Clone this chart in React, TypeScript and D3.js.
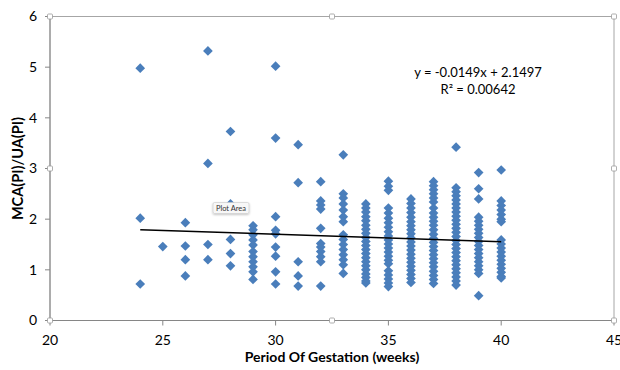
import React from 'react';
import * as d3 from 'd3';

// gestation week for each column of points
const weeks = [24, 25, 26, 27, 28, 29, 30, 31, 32, 33, 34, 35, 36, 37, 38, 39, 40];

// MCA(PI)/UA(PI) readings, one list per week
const ratios = [
  [4.98, 2.02, 0.72],
  [1.46],
  [1.93, 1.47, 1.2, 0.88],
  [5.32, 3.1, 1.5, 1.2],
  [3.73, 2.3, 1.6, 1.32, 1.08],
  [1.87, 1.79, 1.69, 1.59, 1.49, 1.36, 1.26, 1.16, 1.06, 0.96, 0.81],
  [5.02, 3.6, 2.05, 1.78, 1.71, 1.45, 1.27, 0.96, 0.72],
  [3.47, 2.72, 1.16, 0.88, 0.68],
  [2.74, 2.36, 2.28, 2.2, 1.82, 1.52, 1.45, 1.36, 1.26, 1.16, 0.68],
  [3.27, 2.5, 2.42, 2.3, 2.18, 2.05, 1.95, 1.69, 1.6, 1.5, 1.4, 1.3, 1.2, 1.1, 0.93],
  [2.3, 2.22, 2.14, 2.05, 1.97, 1.88, 1.8, 1.72, 1.64, 1.56, 1.48, 1.4, 1.32, 1.24, 1.16, 1.08, 1.0, 0.92, 0.85, 0.78, 0.74],
  [2.75, 2.65, 2.57, 2.22, 2.12, 2.02, 1.93, 1.84, 1.75, 1.67, 1.59, 1.51, 1.43, 1.35, 1.27, 1.19, 1.12, 0.98, 0.9, 0.82, 0.74, 0.67],
  [2.4, 2.31, 2.22, 2.13, 2.04, 1.95, 1.87, 1.79, 1.71, 1.63, 1.55, 1.47, 1.39, 1.31, 1.23, 1.15, 1.07, 0.99, 0.91, 0.83, 0.75],
  [2.74, 2.66, 2.58, 2.5, 2.42, 2.34, 2.22, 2.12, 2.04, 1.96, 1.88, 1.79, 1.7, 1.62, 1.54, 1.46, 1.38, 1.3, 1.22, 1.14, 1.06, 0.97, 0.89, 0.81, 0.73],
  [3.42, 2.62, 2.54, 2.46, 2.38, 2.3, 2.22, 2.14, 2.06, 1.98, 1.9, 1.82, 1.74, 1.66, 1.58, 1.5, 1.42, 1.34, 1.26, 1.18, 1.1, 1.02, 0.94, 0.86, 0.78, 0.7],
  [2.92, 2.6, 2.4, 2.04, 1.96, 1.88, 1.8, 1.72, 1.64, 1.56, 1.48, 1.4, 1.32, 1.24, 1.16, 1.08, 1.0, 0.93, 0.49],
  [2.97, 2.36, 2.27, 2.18, 2.09, 2.0, 1.95, 1.59, 1.51, 1.43, 1.35, 1.27, 1.19, 1.11, 1.03, 0.95, 0.87, 0.84],
];

const xTicks = [20, 25, 30, 35, 40, 45];
const yTicks = [0, 1, 2, 3, 4, 5, 6];

// linear trendline reported in the chart
const slope = -0.0149;
const intercept = 2.1497;
const trendRange = [24, 40];
const equationLines = ['y = -0.0149x + 2.1497', 'R² = 0.00642'];

const font = 'Lato, "Open Sans", sans-serif';

const App = () => {
  const width = 620;
  const height = 370;
  const margin = { top: 16.5, right: 6, bottom: 49.5, left: 50 };

  const x = d3.scaleLinear().domain([20, 45]).range([margin.left, width - margin.right]);
  const y = d3.scaleLinear().domain([0, 6]).range([height - margin.bottom, margin.top]);

  const points = weeks.flatMap((w, i) => ratios[i].map((v, j) => ({ w, v, key: `${w}-${j}` })));

  const diamond = d3.symbol().type(d3.symbolDiamond2).size(60)();

  const trend = d3.line<number>()
    .x(d => x(d))
    .y(d => y(slope * d + intercept))(trendRange);

  const x0 = x(20), x1 = x(45), y0 = y(0), y1 = y(6);
  const xm = (x0 + x1) / 2, ym = (y0 + y1) / 2;
  const handles = [[x0, y1], [xm, y1], [x1, y1], [x0, ym], [x1, ym], [x0, y0], [xm, y0], [x1, y0]];

  return (
    <svg width={width} height={height} style={{ position: 'absolute', left: 0, top: 0, background: '#fff' }}>
      <defs>
        <filter id="tipShadow" x="-20%" y="-30%" width="140%" height="160%">
          <feDropShadow dx="0" dy="1" stdDeviation="1" floodColor="#000" floodOpacity="0.25" />
        </filter>
      </defs>

      {/* plot area frame */}
      <rect x={x0} y={y1} width={x1 - x0} height={y0 - y1} fill="none" stroke="#a6a6a6" strokeWidth={1} />

      {/* y axis */}
      {yTicks.map(t => (
        <g key={`y${t}`}>
          <line x1={x0 - 5} x2={x0} y1={y(t)} y2={y(t)} stroke="#868686" />
          <text x={x0 - 13} y={y(t)} dy="0.35em" textAnchor="end" fontSize={14} fontFamily={font} fill="#000">{t}</text>
        </g>
      ))}
      <line x1={x0} x2={x0} y1={y1} y2={y0} stroke="#868686" />

      {/* x axis */}
      {xTicks.map(t => (
        <g key={`x${t}`}>
          <line x1={x(t)} x2={x(t)} y1={y0} y2={y0 + 5} stroke="#868686" />
          <text x={x(t)} y={y0 + 24} textAnchor="middle" fontSize={14} fontFamily={font} fill="#000">{t}</text>
        </g>
      ))}
      <line x1={x0} x2={x1} y1={y0} y2={y0} stroke="#868686" />

      {/* points */}
      {points.map(p => (
        <path key={p.key} d={diamond} transform={`translate(${x(p.w)},${y(p.v)})`} fill="#4a7ebb" />
      ))}

      {/* trendline */}
      <path d={trend || ''} fill="none" stroke="#000" strokeWidth={1.5} />

      {/* equation */}
      {equationLines.map((l, i) => (
        <text key={l} x={478} y={77 + i * 17} textAnchor="middle" fontSize={13} fontFamily={font} fill="#000">{l}</text>
      ))}

      {/* axis titles */}
      <text x={332} y={362} textAnchor="middle" fontSize={14} fontWeight="bold" fontFamily={font} fill="#000">
        Period Of Gestation (weeks)
      </text>
      <text transform={`translate(23,${ym}) rotate(-90)`} textAnchor="middle" fontSize={14.5} fontWeight="bold" fontFamily={font} fill="#000">
        MCA(PI)/UA(PI)
      </text>

      {/* selection handles */}
      {handles.map(([hx, hy], i) => (
        <rect key={`h${i}`} x={hx - 2.5} y={hy - 2.5} width={5} height={5} rx={1} fill="#fff" stroke="#9a9a9a" strokeWidth={0.8} />
      ))}

      {/* hover tip */}
      <g filter="url(#tipShadow)">
        <rect x={213} y={202.5} width={36} height={11} fill="#f7f7f7" stroke="#c8c8c8" strokeWidth={0.6} rx={1.5} />
      </g>
      <text x={231} y={211} textAnchor="middle" fontSize={7.5} fontFamily={font} fill="#333">Plot Area</text>
    </svg>
  );
};

export default App;
